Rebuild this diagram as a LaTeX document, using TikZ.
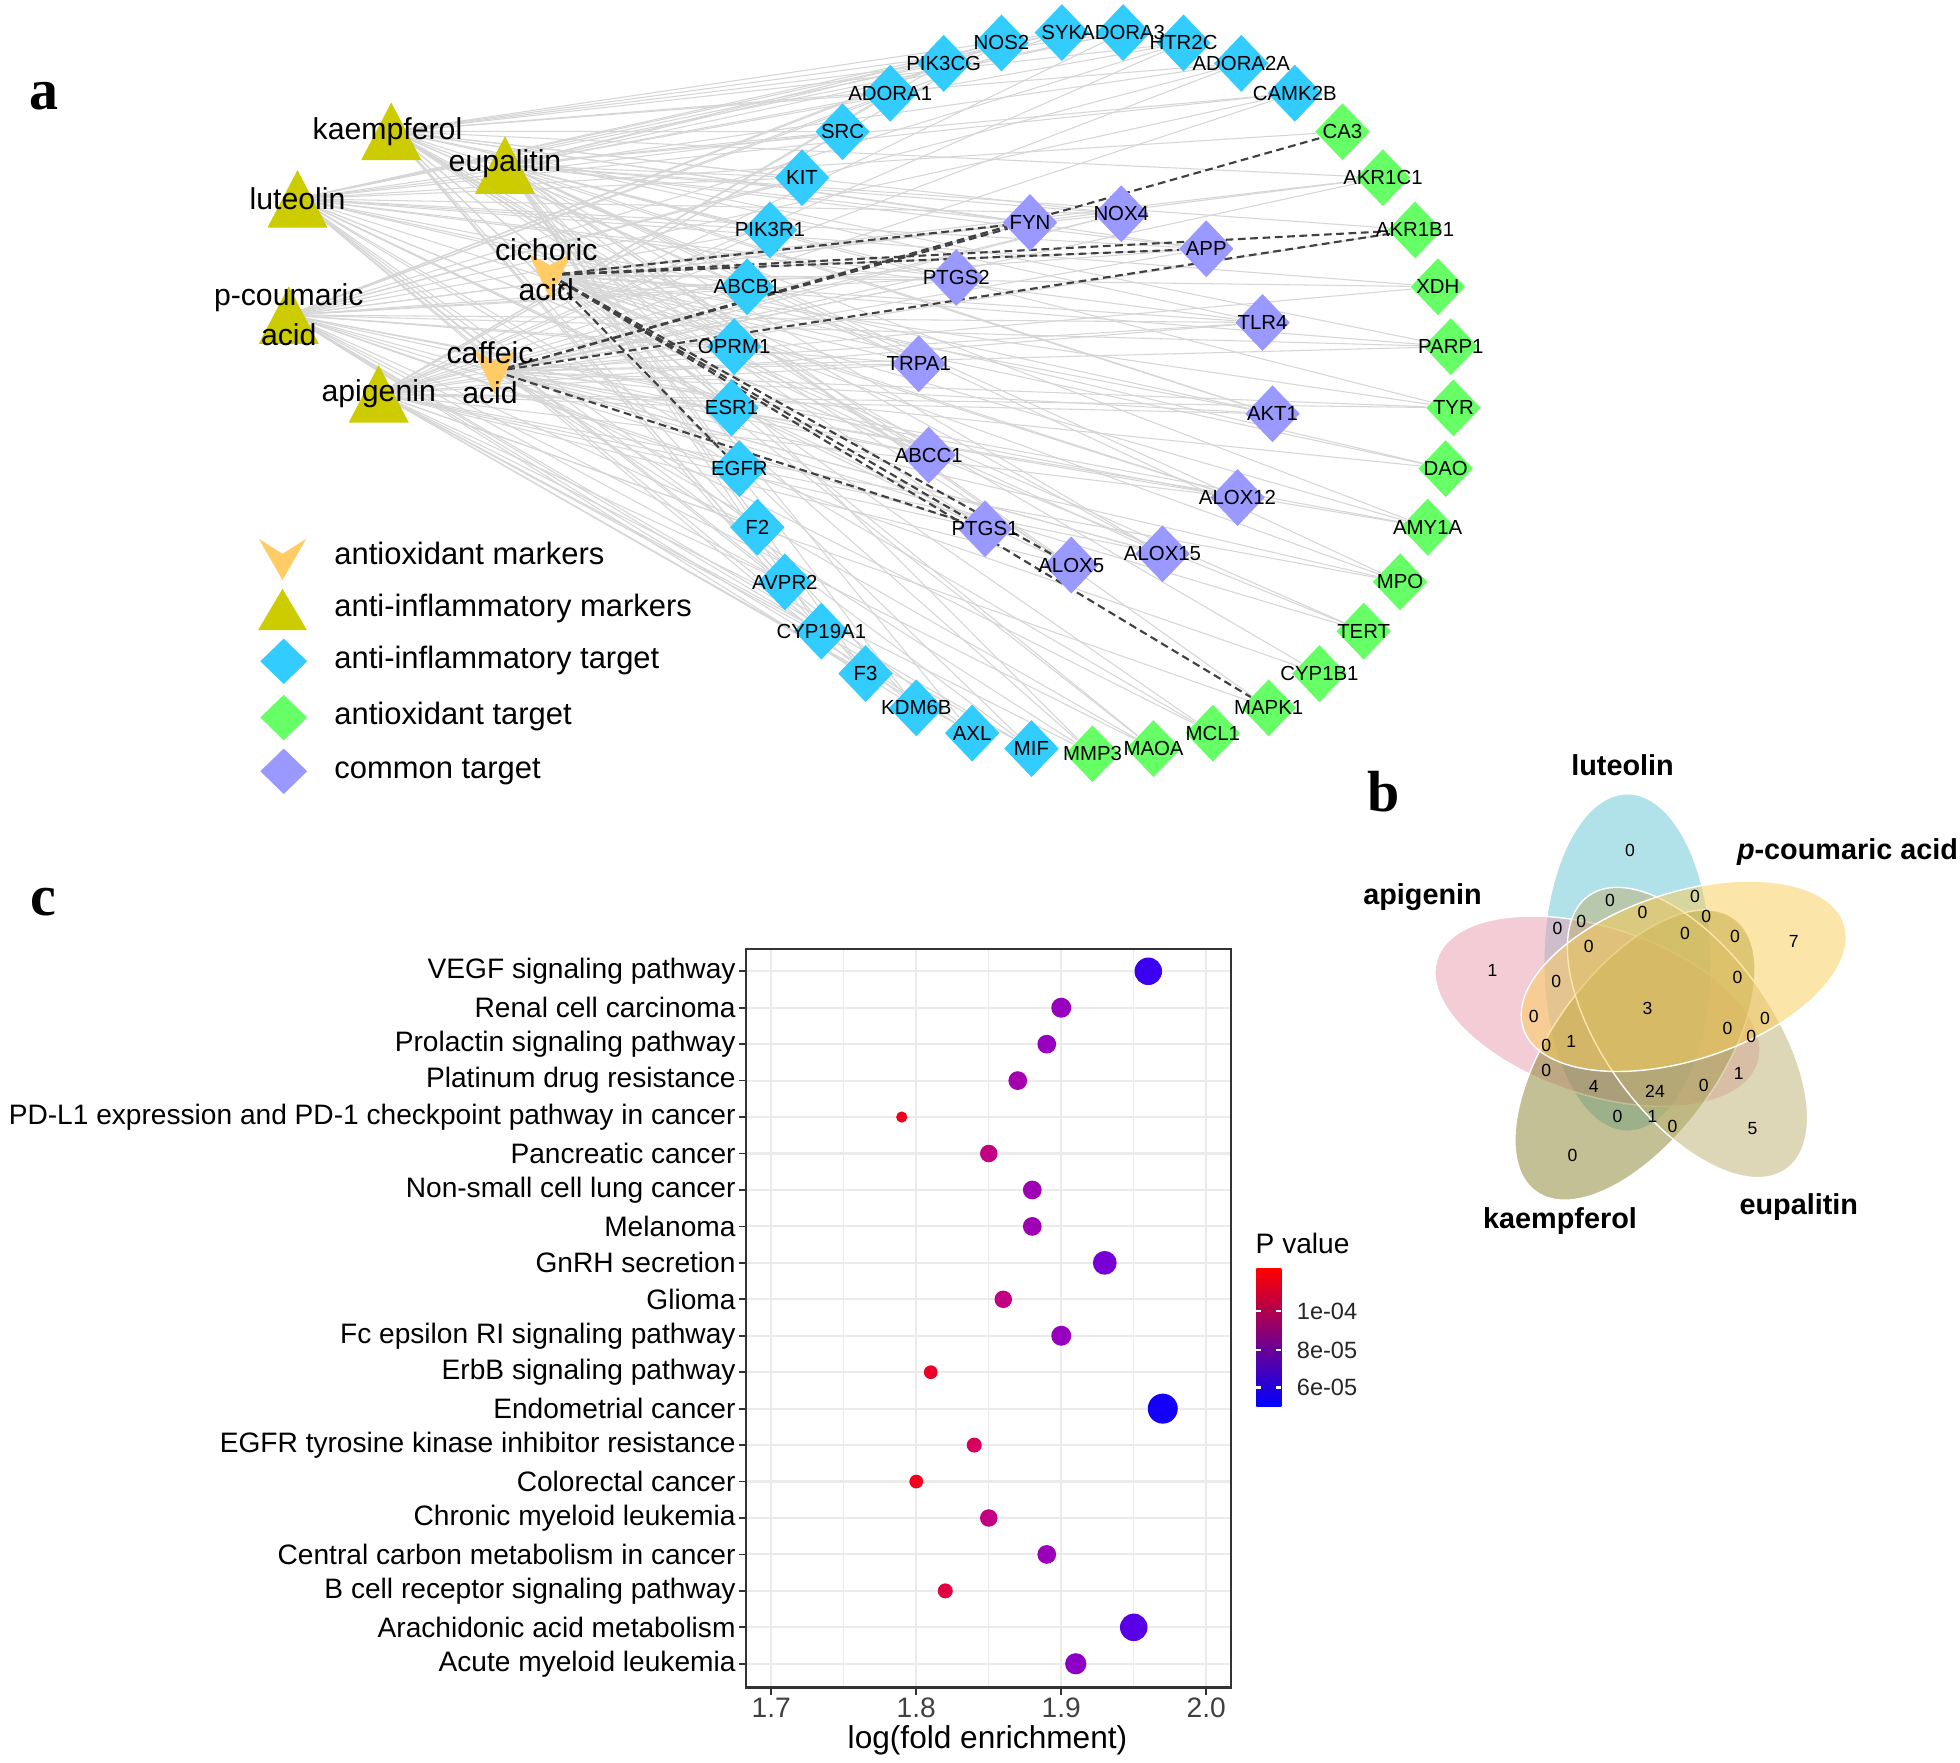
\documentclass[tikz,border=0pt]{standalone}
\usepackage{fontspec}
\setmainfont{Liberation Sans}
\newfontfamily\serifbf{Liberation Serif}
\usetikzlibrary{shapes.geometric,backgrounds}
\definecolor{olivec}{RGB}{204,204,0}
\definecolor{orangec}{RGB}{255,204,102}
\definecolor{bluec}{RGB}{51,204,255}
\definecolor{greenc}{RGB}{102,255,102}
\definecolor{purpc}{RGB}{153,153,255}
\definecolor{edgec}{RGB}{214,214,214}
\definecolor{dashc}{RGB}{64,64,64}
\definecolor{vlut}{RGB}{101,197,213}
\definecolor{vapi}{RGB}{235,155,175}
\definecolor{vpco}{RGB}{251,205,85}
\definecolor{veup}{RGB}{189,177,115}
\definecolor{vkae}{RGB}{137,131,45}
\definecolor{gridc}{RGB}{235,235,235}
\definecolor{cbmid}{RGB}{175,0,165}
\tikzset{
  tgt/.style={diamond, draw=none, fill=#1, inner sep=0pt, minimum width=5.5mm, minimum height=5.75mm},
  legd/.style={diamond, draw=none, fill=#1, inner sep=0pt, minimum width=4.75mm, minimum height=4.6mm},
  glab/.style={font=\fontsize{5.8}{6}\selectfont, inner sep=0pt, text=black},
  clab/.style={font=\fontsize{8.6}{11.4}\selectfont, inner sep=0pt, align=center},
  legtxt/.style={font=\fontsize{8.8}{10}\selectfont, anchor=west, inner sep=0pt},
  gedge/.style={draw=edgec, line width=0.3pt},
  dedge/.style={draw=dashc, line width=0.6pt, dash pattern=on 2.2pt off 1.3pt},
  panel/.style={font=\serifbf\bfseries\fontsize{16.5}{18}\selectfont, inner sep=0pt},
  vnum/.style={font=\fontsize{5}{6}\selectfont, inner sep=0pt},
  vlab/.style={font=\bfseries\fontsize{8.2}{10}\selectfont, inner sep=0pt},
  vell/.style={fill=#1, fill opacity=0.5, draw=white, line width=0.4pt},
  ylab/.style={font=\fontsize{8}{9}\selectfont, anchor=east, inner sep=0pt},
  xlab/.style={font=\fontsize{8}{9}\selectfont, inner sep=0pt, text=black!75},
  cblab/.style={font=\fontsize{6.7}{8}\selectfont, anchor=west, inner sep=0pt, text=black!85},
  flavtri/.pic={\fill[olivec] (0,-23) -- (24,23) -- (-24,23) -- cycle;},
  aoxtri/.pic={\fill[orangec] (-17,-17) -- (0,-8) -- (17,-17) -- (0,19) -- cycle;},
  flavleg/.pic={\fill[olivec] (0,-16) -- (19.5,17) -- (-19.5,17) -- cycle;},
  aoxleg/.pic={\fill[orangec] (-19,-12) -- (0,0) -- (19,-12) -- (0,21) -- cycle;},
}
\begin{document}
\begin{tikzpicture}[x=0.125mm,y=-0.125mm]
\begin{scope}[on background layer]
\fill[white] (0,0) rectangle (1568,1410);
\end{scope}
\useasboundingbox (0,0) rectangle (1568,1410);

% ---------------- panel letters
\node[panel] (pa) at (35,77) {a};
\node[panel] (pb) at (1107,633) {b};
\node[panel] (pc) at (35,722) {c};

% ---------------- network: ring of targets
\foreach \n [count=\i from 0] in {MMP3,MAOA,MCL1,MAPK1,CYP1B1,TERT,MPO,AMY1A,DAO,TYR,PARP1,XDH,AKR1B1,AKR1C1,CA3}{
  \pgfmathsetmacro\ang{-90+\i*360/37}
  \node[tgt=greenc] (\n) at ({874+289*cos(\ang)},{314-289*sin(\ang)}) {};
}
\foreach \n [count=\i from 15] in {CAMK2B,ADORA2A,HTR2C,ADORA3,SYK,NOS2,PIK3CG,ADORA1,SRC,KIT,PIK3R1,ABCB1,OPRM1,ESR1,EGFR,F2,AVPR2,CYP19A1,F3,KDM6B,AXL,MIF}{
  \pgfmathsetmacro\ang{-90+\i*360/37}
  \node[tgt=bluec] (\n) at ({874+289*cos(\ang)},{314-289*sin(\ang)}) {};
}
% common targets
\foreach \n/\x/\y in {FYN/824/178,NOX4/897/171,APP/965/199,PTGS2/765/222,TLR4/1010/258,TRPA1/735/291,AKT1/1018/331,ABCC1/743/364,ALOX12/990/398,PTGS1/788/423,ALOX15/930/443,ALOX5/857/452}{
  \node[tgt=purpc] (\n) at (\x,\y) {};
}

% compounds
\coordinate (kaemp) at (313,105);
\coordinate (eupal) at (404,132);
\coordinate (luteo) at (238,159);
\coordinate (pcoum) at (231,252);
\coordinate (apig) at (303,315);
\coordinate (cich) at (440,220);
\coordinate (caff) at (396,297);
\foreach \c in {kaemp,eupal,luteo,pcoum,apig}{\pic at (\c) {flavtri};}
\foreach \c in {cich,caff}{\pic at (\c) {aoxtri};}

% edges (under the nodes)
\begin{scope}[on background layer]
\foreach \c [count=\ci] in {kaemp,eupal,luteo,pcoum,apig}{
  \foreach \t [count=\ti] in {CAMK2B,ADORA2A,HTR2C,ADORA3,SYK,NOS2,PIK3CG,ADORA1,SRC,KIT,PIK3R1,ABCB1,OPRM1,ESR1,EGFR,F2,AVPR2,CYP19A1,F3,KDM6B,AXL,MIF,FYN,NOX4,APP,PTGS2,TLR4,TRPA1,AKT1,ABCC1,ALOX12,PTGS1,ALOX15,ALOX5}{
    \pgfmathtruncatemacro\r{mod(\ci*3+\ti*2,5)}
    \ifnum\r>0 \draw[gedge] (\c) -- (\t);\fi
  }
  \foreach \t [count=\ti] in {MMP3,MAOA,MCL1,MAPK1,CYP1B1,TERT,MPO,AMY1A,DAO,TYR,PARP1,XDH,AKR1B1,AKR1C1,CA3}{
    \pgfmathtruncatemacro\r{mod(\ci+\ti,3)}
    \ifnum\r=0 \draw[gedge] (\c) -- (\t);\fi
  }
}
\foreach \c in {cich,caff}{
  \foreach \t in {MMP3,MAOA,MCL1,TERT,MPO,AMY1A,DAO,TYR,PARP1,XDH,AKR1C1,NOX4,TLR4,TRPA1,AKT1,ABCC1,ALOX12,ALOX15,PTGS2,APP}{
    \draw[gedge] (\c) -- (\t);
  }
}
\foreach \t in {FYN,APP,AKR1B1,EGFR,PTGS1,ALOX5,MAPK1}{\draw[dedge] (cich) -- (\t);}
\foreach \t in {FYN,CA3,AKR1B1,PTGS1}{\draw[dedge] (caff) -- (\t);}
\end{scope}

% target labels
\foreach \n in {MMP3,MAOA,MCL1,MAPK1,CYP1B1,TERT,MPO,AMY1A,DAO,TYR,PARP1,XDH,AKR1B1,AKR1C1,CA3,CAMK2B,ADORA2A,HTR2C,ADORA3,SYK,NOS2,PIK3CG,ADORA1,SRC,KIT,PIK3R1,ABCB1,OPRM1,ESR1,EGFR,F2,AVPR2,CYP19A1,F3,KDM6B,AXL,MIF,FYN,NOX4,APP,PTGS2,TLR4,TRPA1,AKT1,ABCC1,ALOX12,PTGS1,ALOX15,ALOX5}{
  \node[glab] (\n-l) at (\n) {\n};
}
% compound labels
\node[clab] (kaemp-l) at (310,105) {kaempferol};
\node[clab] (eupal-l) at (404,131) {eupalitin};
\node[clab] (luteo-l) at (238,159) {luteolin};
\node[clab] (pcoum-l) at (231,252) {p-coumaric\\acid};
\node[clab] (apig-l) at (303,315) {apigenin};
\node[clab] (cich-l) at (437,216) {cichoric\\acid};
\node[clab] (caff-l) at (392,298) {caffeic\\acid};

% legend
\coordinate (lg1) at (226,443);
\coordinate (lg2) at (226,487);
\pic at (lg1) {aoxleg};
\pic at (lg2) {flavleg};
\node[legd=bluec] (lg3) at (227,529) {};
\node[legd=greenc] (lg4) at (227,574) {};
\node[legd=purpc] (lg5) at (227,617) {};
\node[legtxt] (lt1) at (267,443) {antioxidant markers};
\node[legtxt] (lt2) at (267,487) {anti-inflammatory markers};
\node[legtxt] (lt3) at (267,528) {anti-inflammatory target};
\node[legtxt] (lt4) at (267,573) {antioxidant target};
\node[legtxt] (lt5) at (267,617) {common target};

% ---------------- panel b: Venn diagram
\fill[vell=vlut, rotate around={90:(1302,770)}] (1302,770) ellipse [x radius=135, y radius=67];
\fill[vell=vapi, rotate around={162:(1278,809)}] (1278,809) ellipse [x radius=135, y radius=67];
\fill[vell=vkae, rotate around={-126:(1308,844)}] (1308,844) ellipse [x radius=135, y radius=67];
\fill[vell=veup, rotate around={-54:(1350,826)}] (1350,826) ellipse [x radius=135, y radius=67];
\fill[vell=vpco, rotate around={18:(1347,781)}] (1347,781) ellipse [x radius=135, y radius=67];
\foreach \v/\x/\y [count=\k] in {0/1304/680,7/1435/753,1/1194/776,5/1402/903,0/1258/924,3/1318/807,
  0/1288/720,0/1356/717,0/1314/730,0/1365/733,0/1246/743,0/1265/737,0/1348/747,0/1388/749,0/1271/757,
  0/1245/785,0/1390/782,0/1227/813,0/1412/815,0/1382/823,0/1401/829,0/1237/836,1/1257/833,0/1237/856,
  1/1391/859,4/1275/869,24/1324/873,0/1363/868,0/1294/893,1/1322/893,0/1338/901}{
  \node[vnum] (vn\k) at (\x,\y) {\v};
}
\node[vlab] (vl1) at (1298,612) {luteolin};
\node[vlab] (vl2) at (1478,682) {{\itshape p}-coumaric acid};
\node[vlab] (vl3) at (1138,718) {apigenin};
\node[vlab] (vl4) at (1248,977) {kaempferol};
\node[vlab] (vl5) at (1439,966) {eupalitin};

% ---------------- panel c: dot plot
\foreach \xv in {675,791,907}{\draw[gridc, line width=0.3pt] (\xv,759) -- (\xv,1350);}
\foreach \xv in {617,733,849,965}{\draw[gridc, line width=0.6pt] (\xv,759) -- (\xv,1350);}
\foreach \k in {0,...,19}{\draw[gridc, line width=0.6pt] (597,{777+\k*29.158}) -- (985,{777+\k*29.158});}
\foreach \lab/\v/\rad/\cr/\cg/\cb [count=\k from 0] in {
 VEGF signaling pathway/1.96/11/60/0/240,
 Renal cell carcinoma/1.90/8/150/0/190,
 Prolactin signaling pathway/1.89/7.5/150/0/190,
 Platinum drug resistance/1.87/7.5/165/0/175,
 PD-L1 expression and PD-1 checkpoint pathway in cancer/1.79/4.5/240/0/30,
 Pancreatic cancer/1.85/7/195/0/130,
 Non-small cell lung cancer/1.88/7.5/160/0/180,
 Melanoma/1.88/7.5/160/0/180,
 GnRH secretion/1.93/9.5/120/0/215,
 Glioma/1.86/7/195/0/130,
 Fc epsilon RI signaling pathway/1.90/8/150/0/190,
 ErbB signaling pathway/1.81/5.5/235/0/40,
 Endometrial cancer/1.97/12/20/0/250,
 EGFR tyrosine kinase inhibitor resistance/1.84/6/215/0/90,
 Colorectal cancer/1.80/5.5/240/0/30,
 Chronic myeloid leukemia/1.85/7/195/0/130,
 Central carbon metabolism in cancer/1.89/7.5/155/0/185,
 B cell receptor signaling pathway/1.82/6/225/0/65,
 Arachidonic acid metabolism/1.95/11/90/0/230,
 Acute myeloid leukemia/1.91/8.5/140/0/200}{
  \pgfmathsetmacro\yy{777+\k*29.158}
  \pgfmathsetmacro\xx{617+(\v-1.7)*1160}
  \definecolor{dotc}{RGB}{\cr,\cg,\cb}
  \node[ylab] (row\k) at (589,\yy) {\lab};
  \draw[black!80, line width=0.5pt] (591,\yy) -- (597,\yy);
  \fill[dotc] (\xx,\yy) circle [radius=\rad];
}
\draw[black!80, line width=0.6pt] (597,759) rectangle (985,1350);
\foreach \xv/\t in {617/1.7,733/1.8,849/1.9,965/2.0}{
  \draw[black!80, line width=0.5pt] (\xv,1350) -- (\xv,1356);
  \node[xlab] (xt\t) at (\xv,1366) {\t};
}
\node[font=\fontsize{9}{10}\selectfont, inner sep=0pt] (xtitle) at (790,1392) {log(fold enrichment)};
% colour bar
\node[font=\fontsize{8}{9}\selectfont, anchor=west, inner sep=0pt] (cbt) at (1004,995) {P value};
\shade[top color=red, middle color=cbmid, bottom color=blue] (1005,1015) rectangle (1025,1125);
\foreach \yv/\t in {1049/1e-04,1080/8e-05,1110/6e-05}{
  \draw[white, line width=0.6pt] (1005,\yv) -- (1009,\yv) (1021,\yv) -- (1025,\yv);
  \node[cblab] (cb\t) at (1037,\yv) {\t};
}
\end{tikzpicture}
\end{document}
